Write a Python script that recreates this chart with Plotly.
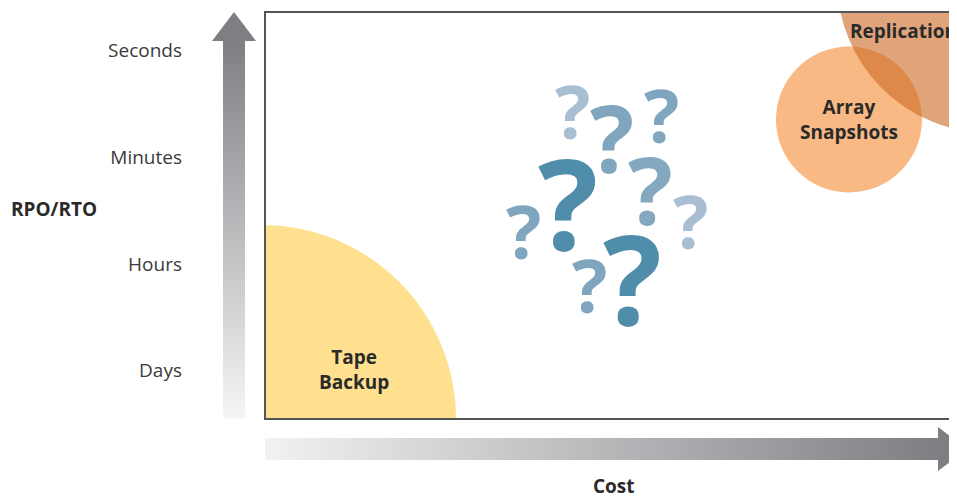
import plotly.graph_objects as go

# ---------------- data ----------------
rpo_labels = ["Days", "Hours", "Minutes", "Seconds"]
rpo_levels = [49, 155, 262, 369]          # position of each RPO/RTO level on the y scale

bubble_names = ["Tape<br>Backup", "Array<br>Snapshots", "Replication"]
bubble_cost = [-3, 584, 725]               # centre on cost axis
bubble_rpo = [0, 299.5, 439]               # centre on RPO/RTO axis
bubble_radius = [194, 73, 153]
bubble_color = ["#FFE08F", "#F9B984", "rgb(203,103,35)"]
bubble_opacity = [1.0, 1.0, 0.60]
label_cost = [89, 584, 583]
label_rpo = [50, 300, 388]
label_anchor = ["center", "center", "left"]

# question marks (pixel coords of glyph centre)
q_x = [572, 612, 661, 568, 650, 690, 523, 589, 632]
q_y = [113, 140, 117, 205, 192, 223, 233, 287, 281]
q_h = [53, 66, 53, 90, 67, 53, 53, 53, 88]
q_col = ["#A9BED2", "#80A6BF", "#80A6BF", "#4F8DAB", "#84A8C0",
         "#A9BED2", "#80A6BF", "#80A6BF", "#4F8DAB"]

OFF = 8                     # page body margin in the browser
W, H = 957 - OFF, 496 - OFF
FL, FT, FB = 265, 12, 419   # frame left/top/bottom in page pixels
FONT = "Open Sans"
TXT = "#3a3a3a"

fig = go.Figure()

# ---- gradient arrows on the full-canvas axes ----
ax_x = 234; hw = 11; hh = 22; tip = 12; hb = 41
fig.add_trace(go.Scatter(
    x=[ax_x, ax_x + hh, ax_x + hw, ax_x + hw, ax_x - hw, ax_x - hw, ax_x - hh, ax_x],
    y=[tip, hb, hb, FB, FB, hb, hb, tip],
    mode="lines", line=dict(width=0), fill="toself", hoverinfo="skip",
    fillgradient=dict(type="vertical", start=FB, stop=hb,
                      colorscale=[[0, "#F6F6F7"], [1, "#7E7F83"]]),
    xaxis="x", yaxis="y", showlegend=False))

ay = 449; shaft_end = 938; htip = 967
fig.add_trace(go.Scatter(
    x=[FL, shaft_end, shaft_end, htip, shaft_end, shaft_end, FL, FL],
    y=[ay - hw, ay - hw, ay - hh, ay, ay + hh, ay + hw, ay + hw, ay - hw],
    mode="lines", line=dict(width=0), fill="toself", hoverinfo="skip",
    fillgradient=dict(type="horizontal", start=FL, stop=shaft_end,
                      colorscale=[[0, "#F2F2F3"], [1, "#7E7F83"]]),
    xaxis="x", yaxis="y", showlegend=False))

# invisible trace so the chart subplot exists
fig.add_trace(go.Scatter(x=[0], y=[0], mode="markers", marker=dict(opacity=0),
                         xaxis="x2", yaxis="y2", hoverinfo="skip", showlegend=False))

shapes = []
for cx, cy, r, c, op in zip(bubble_cost, bubble_rpo, bubble_radius, bubble_color, bubble_opacity):
    shapes.append(dict(type="circle", xref="x2", yref="y2",
                       x0=cx - r, x1=cx + r, y0=cy - r, y1=cy + r,
                       fillcolor=c, opacity=op, line=dict(width=0), layer="above"))
# frame (left, top, bottom)
fcol = "#555555"
shapes += [
    dict(type="line", xref="x", yref="y", x0=FL, x1=FL, y0=FT - 1, y1=FB + 1, line=dict(color=fcol, width=2)),
    dict(type="line", xref="x", yref="y", x0=FL, x1=990, y0=FT, y1=FT, line=dict(color=fcol, width=2)),
    dict(type="line", xref="x", yref="y", x0=FL, x1=990, y0=FB, y1=FB, line=dict(color=fcol, width=2)),
]

annotations = []
for name, lx, ly, anc in zip(bubble_names, label_cost, label_rpo, label_anchor):
    annotations.append(dict(text="<b>" + name + "</b>", x=lx, y=ly, xref="x2", yref="y2",
                            xanchor=anc, yanchor="middle", showarrow=False,
                            font=dict(family=FONT, size=19, color="#2a2a2a")))
for x, y, h, c in zip(q_x, q_y, q_h, q_col):
    annotations.append(dict(text="<b>?</b>", x=x, y=y - 0.045 * h, xref="x", yref="y",
                            xanchor="center", yanchor="middle", showarrow=False,
                            font=dict(family=FONT, size=h / 0.714, color=c)))
annotations.append(dict(text="<b>RPO/RTO</b>", x=9, y=209, xref="x", yref="y",
                        xanchor="left", yanchor="middle", showarrow=False,
                        font=dict(family=FONT, size=19, color="#2a2a2a")))
annotations.append(dict(text="<b>Cost</b>", x=614, y=486, xref="x", yref="y",
                        xanchor="center", yanchor="middle", showarrow=False,
                        font=dict(family=FONT, size=19, color="#2a2a2a")))

fig.update_layout(
    width=W, height=H, margin=dict(l=0, r=0, t=0, b=0),
    paper_bgcolor="white", plot_bgcolor="rgba(0,0,0,0)",
    xaxis=dict(domain=[0, 1], range=[OFF, W + OFF], visible=False, fixedrange=True),
    yaxis=dict(domain=[0, 1], range=[H + OFF, OFF], visible=False, fixedrange=True),
    xaxis2=dict(domain=[(FL - OFF) / W, 1], range=[0, W - FL + OFF], anchor="y2",
                showgrid=False, zeroline=False, showticklabels=False, showline=False),
    yaxis2=dict(domain=[1 - (FB - OFF) / H, 1 - (FT - OFF) / H], range=[0, FB - FT], anchor="x2",
                showgrid=False, zeroline=False, showline=False,
                tickvals=rpo_levels, ticktext=rpo_labels, ticks="",
                ticklabelstandoff=82,
                tickfont=dict(family=FONT, size=19, color=TXT)),
    shapes=shapes, annotations=annotations, showlegend=False,
)

fig.write_html("out.html")
